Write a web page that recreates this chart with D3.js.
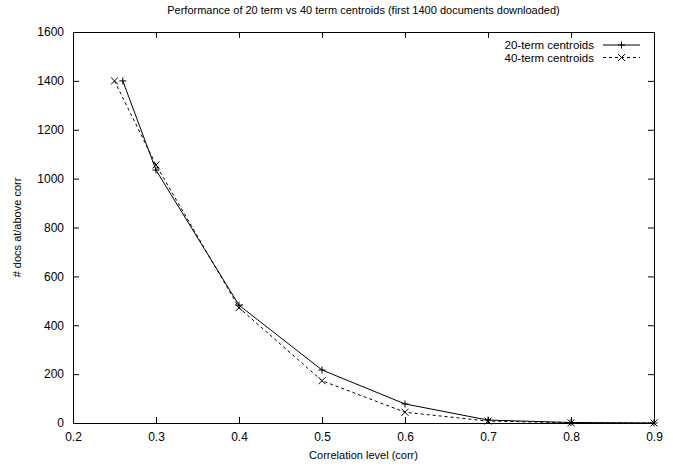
<!DOCTYPE html>
<html>
<head>
<meta charset="utf-8">
<script src="https://cdn.jsdelivr.net/npm/d3@7"></script>
<style>
  body { margin: 0; background: #fff; }
  text { font-family: "Liberation Sans", Arial, sans-serif; }
</style>
</head>
<body>
<svg width="673" height="466"></svg>
<script>
// data
const corr20 = [0.26, 0.3, 0.4, 0.5, 0.6, 0.7, 0.8, 0.9];
const docs20 = [1400, 1035, 482, 217, 78, 12, 2, 0];
const corr40 = [0.25, 0.3, 0.4, 0.5, 0.6, 0.7, 0.8, 0.9];
const docs40 = [1400, 1056, 472, 173, 44, 8, 1, 0];
const xTicks = [0.2, 0.3, 0.4, 0.5, 0.6, 0.7, 0.8, 0.9];
const yTicks = [0, 200, 400, 600, 800, 1000, 1200, 1400, 1600];

const margin = {top: 32, right: 19, bottom: 43, left: 73},
  width = 673 - margin.left - margin.right,
  height = 466 - margin.top - margin.bottom;

const svg = d3.select("svg")
  .append("g")
  .attr("transform", `translate(${margin.left}, ${margin.top})`);

const x = d3.scaleLinear().domain([0.2, 0.9]).range([0, width]);
const y = d3.scaleLinear().domain([0, 1600]).range([height, 0]);

// axes, gnuplot style: ticks inside, mirrored
svg.append("g")
  .attr("transform", `translate(0, ${height})`)
  .call(d3.axisBottom(x).tickValues(xTicks).tickSize(-6).tickPadding(9).tickFormat(d3.format(".1f")));
svg.append("g")
  .call(d3.axisTop(x).tickValues(xTicks).tickSize(-6).tickFormat(""));
svg.append("g")
  .call(d3.axisLeft(y).tickValues(yTicks).tickSize(-6).tickPadding(9).tickFormat(d3.format("d")));
svg.append("g")
  .attr("transform", `translate(${width}, 0)`)
  .call(d3.axisRight(y).tickValues(yTicks).tickSize(-6).tickFormat(""));

svg.selectAll(".domain").attr("stroke", "#000").attr("stroke-width", 1);
svg.selectAll(".tick line").attr("stroke", "#000");
svg.selectAll(".tick text")
  .attr("font-size", "12px")
  .attr("font-family", "Liberation Sans, Arial, sans-serif")
  .attr("fill", "#000");

// titles
svg.append("text")
  .attr("x", width / 2)
  .attr("y", -18)
  .attr("text-anchor", "middle")
  .attr("font-size", "11px")
  .text("Performance of 20 term vs 40 term centroids (first 1400 documents downloaded)");

svg.append("text")
  .attr("x", width / 2)
  .attr("y", height + 36)
  .attr("text-anchor", "middle")
  .attr("font-size", "11px")
  .text("Correlation level (corr)");

svg.append("text")
  .attr("transform", `translate(-52, ${height / 2}) rotate(-90)`)
  .attr("text-anchor", "middle")
  .attr("font-size", "11px")
  .text("# docs at/above corr");

const line = d3.line().x(d => x(d[0])).y(d => y(d[1]));
const pts20 = d3.zip(corr20, docs20);
const pts40 = d3.zip(corr40, docs40);

svg.append("path")
  .datum(pts20)
  .attr("d", line)
  .attr("fill", "none")
  .attr("stroke", "#000")
  .attr("stroke-width", 1);

svg.append("path")
  .datum(pts40)
  .attr("d", line)
  .attr("fill", "none")
  .attr("stroke", "#000")
  .attr("stroke-width", 1)
  .attr("stroke-dasharray", "3,3");

const s = 3.5;
const plus = `M${-s},0H${s}M0,${-s}V${s}`;
const cross = `M${-s},${-s}L${s},${s}M${-s},${s}L${s},${-s}`;

svg.selectAll(".p20")
  .data(pts20)
  .join("path")
  .attr("transform", d => `translate(${x(d[0])}, ${y(d[1])})`)
  .attr("d", plus)
  .attr("stroke", "#000");

svg.selectAll(".p40")
  .data(pts40)
  .join("path")
  .attr("transform", d => `translate(${x(d[0])}, ${y(d[1])})`)
  .attr("d", cross)
  .attr("stroke", "#000");

// legend
const legend = [
  {label: "20-term centroids", mark: plus, dash: null},
  {label: "40-term centroids", mark: cross, dash: "3,3"}
];
const lg = svg.selectAll(".legend")
  .data(legend)
  .join("g")
  .attr("transform", (d, i) => `translate(${width - 60}, ${13 + i * 12.5})`);
lg.append("text")
  .attr("x", 0)
  .attr("y", 4)
  .attr("text-anchor", "end")
  .attr("font-size", "11.5px")
  .text(d => d.label);
lg.append("line")
  .attr("x1", 9).attr("x2", 46)
  .attr("stroke", "#000")
  .attr("stroke-dasharray", d => d.dash);
lg.append("path")
  .attr("transform", "translate(27.5, 0)")
  .attr("d", d => d.mark)
  .attr("stroke", "#000");
</script>
</body>
</html>
